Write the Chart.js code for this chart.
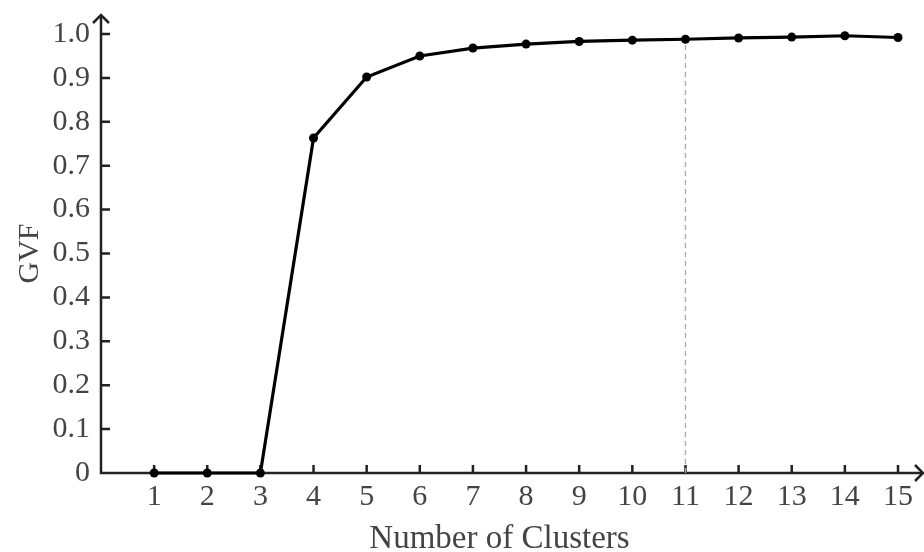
<!DOCTYPE html>
<html>
<head>
<meta charset="utf-8">
<script src="https://cdn.jsdelivr.net/npm/chart.js@4.4.1/dist/chart.umd.min.js"></script>
<style>
  html, body { margin: 0; padding: 0; background: #fff; }
  #wrap { width: 924px; height: 552px; }
</style>
</head>
<body>
<div id="wrap"><canvas id="gvfChart"></canvas></div>
<script>
const clusters = [1, 2, 3, 4, 5, 6, 7, 8, 9, 10, 11, 12, 13, 14, 15]
const gvf = [0, 0, 0, 0.763, 0.902, 0.950, 0.968, 0.977, 0.983, 0.986, 0.988, 0.991, 0.993, 0.996, 0.992]
const chosenK = 11
const xRange = [0, 15]
const yRange = [0, 1]

const textColor = '#444'
const axisColor = '#222'
const serif = "'Liberation Serif', 'Times New Roman', serif"

// axis lines with arrow heads and inward tick marks
const axisArrows = {
  id: 'axisArrows',
  beforeDatasetsDraw(chart) {
    const { ctx, scales: { x, y } } = chart
    const x0 = x.getPixelForValue(xRange[0])
    const y0 = y.getPixelForValue(yRange[0])
    const yTop = y.getPixelForValue(yRange[1]) - 19
    const xEnd = x.getPixelForValue(xRange[1]) + 25
    ctx.save()
    ctx.strokeStyle = axisColor
    ctx.lineWidth = 2.5
    ctx.beginPath()
    ctx.moveTo(x0, yTop)
    ctx.lineTo(x0, y0)
    ctx.lineTo(xEnd, y0)
    ctx.stroke()

    ctx.beginPath()
    ctx.moveTo(x0 - 8, yTop + 8)
    ctx.lineTo(x0, yTop)
    ctx.lineTo(x0 + 8, yTop + 8)
    ctx.moveTo(xEnd - 8, y0 - 8)
    ctx.lineTo(xEnd, y0)
    ctx.lineTo(xEnd - 8, y0 + 8)
    ctx.stroke()

    ctx.beginPath()
    y.ticks.forEach(t => {
      if (t.value === 0) return
      const py = y.getPixelForValue(t.value)
      ctx.moveTo(x0, py)
      ctx.lineTo(x0 + 9, py)
    })
    x.ticks.forEach(t => {
      if (t.value === 0) return
      const px = x.getPixelForValue(t.value)
      ctx.moveTo(px, y0)
      ctx.lineTo(px, y0 - 8)
    })
    ctx.stroke()
    ctx.restore()
  }
}

new Chart(document.getElementById('gvfChart'), {
  type: 'scatter',
  data: {
    datasets: [
      {
        label: 'GVF',
        data: clusters.map((k, i) => ({ x: k, y: gvf[i] })),
        showLine: true,
        borderColor: '#000',
        borderWidth: 3.2,
        backgroundColor: '#000',
        pointRadius: 4.5,
        pointBorderWidth: 0,
        tension: 0,
        clip: false
      },
      {
        label: 'chosen',
        data: [{ x: chosenK, y: 0 }, { x: chosenK, y: gvf[clusters.indexOf(chosenK)] }],
        showLine: true,
        borderColor: '#aaa',
        borderWidth: 1.3,
        borderDash: [5, 4],
        pointRadius: 0,
        clip: false,
        order: 2
      }
    ]
  },
  plugins: [axisArrows],
  options: {
    responsive: true,
    maintainAspectRatio: false,
    animation: false,
    layout: { padding: { top: 34, right: 26, left: 0, bottom: 0 } },
    plugins: { legend: { display: false }, tooltip: { enabled: false } },
    scales: {
      x: {
        type: 'linear',
        min: xRange[0],
        max: xRange[1],
        afterFit: s => { s.height = 79 },
        grid: { display: false, drawTicks: false },
        border: { display: false },
        ticks: {
          stepSize: 1,
          padding: 6,
          color: textColor,
          font: { family: serif, size: 30 },
          callback: v => v === 0 ? '' : v
        },
        title: {
          display: true,
          text: 'Number of Clusters',
          color: textColor,
          font: { family: serif, size: 33, lineHeight: 1 },
          padding: { top: 0, bottom: -4 }
        }
      },
      y: {
        min: yRange[0],
        max: yRange[1],
        afterFit: s => { s.width = 101 },
        grid: { display: false, drawTicks: false },
        border: { display: false },
        ticks: {
          stepSize: 0.1,
          padding: 11,
          color: textColor,
          font: { family: serif, size: 30 },
          callback: v => v === 0 ? '0' : v.toFixed(1)
        },
        title: {
          display: true,
          text: 'GVF',
          color: textColor,
          font: { family: serif, size: 30 },
          padding: { top: 12, bottom: 0 }
        }
      }
    }
  }
})
</script>
</body>
</html>
